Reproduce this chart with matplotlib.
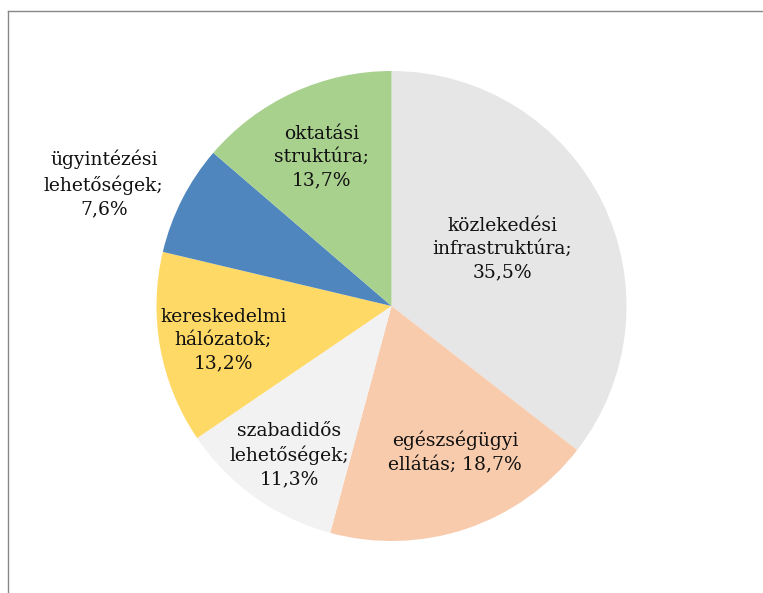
import numpy as np
import matplotlib
matplotlib.use("Agg")
import matplotlib.pyplot as plt
from matplotlib.lines import Line2D

labels = ["közlekedési\ninfrastruktúra;\n35,5%",
          "egészségügyi\nellátás; 18,7%",
          "szabadidős\nlehetőségek;\n11,3%",
          "kereskedelmi\nhálózatok;\n13,2%",
          "ügyintézési\nlehetőségek;\n7,6%",
          "oktatási\nstruktúra;\n13,7%"]
values = [35.5, 18.7, 11.3, 13.2, 7.6, 13.7]
colors = ["#E6E6E6", "#F8CBAD", "#F2F2F2", "#FFD966", "#4F86BE", "#A9D18E"]

# label placement: distance from centre (radius units) and angle nudge (deg)
label_dist = [0.53, 0.68, 0.77, 0.73, 1.33, 0.70]
label_nudge = [1, 5, 1, 1, 4, 0.5]

W, H = 763, 593
fig = plt.figure(figsize=(W / 100, H / 100), dpi=100)

cx, cy, r = 391.5, 306, 235
ax = fig.add_axes([(cx - r) / W, (H - cy - r) / H, 2 * r / W, 2 * r / H])
wedges, _ = ax.pie(values, colors=colors, startangle=90, counterclock=False,
                   radius=1, wedgeprops=dict(linewidth=0))
ax.set_xlim(-1, 1)
ax.set_ylim(-1, 1)
ax.set_aspect("equal")
ax.axis("off")

for w, lab, d, n in zip(wedges, labels, label_dist, label_nudge):
    ang = np.deg2rad((w.theta1 + w.theta2) / 2 + n)
    ax.text(d * np.cos(ang), d * np.sin(ang), lab, ha="center", va="center",
            fontsize=13.5, family="DejaVu Serif", color="#111111",
            linespacing=1.38, clip_on=False)

# chart area frame (cut at right/bottom)
fig.add_artist(Line2D([8 / W, 1], [1 - 11 / H, 1 - 11 / H], color="#888888", lw=1))
fig.add_artist(Line2D([8 / W, 8 / W], [0, 1 - 11 / H], color="#888888", lw=1))

fig.savefig("out.png", dpi=100)
